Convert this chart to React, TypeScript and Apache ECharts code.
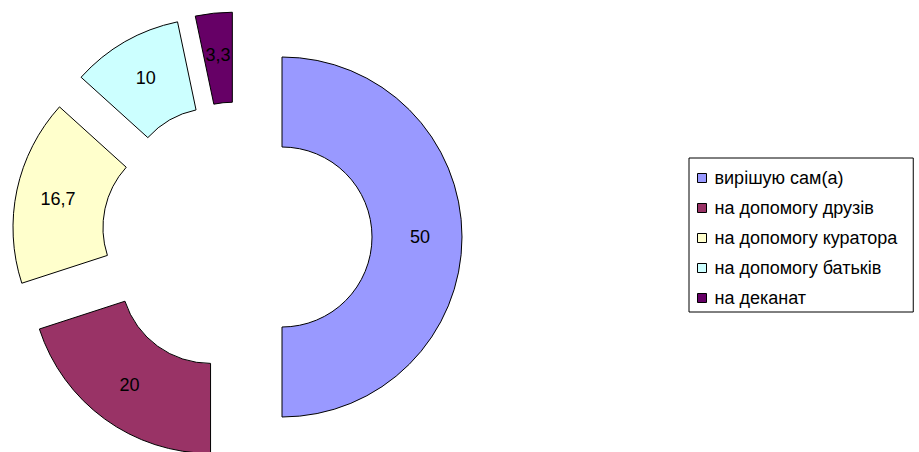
import React, { useEffect, useRef } from "react";
import * as echarts from "echarts";

const categories = [
  "вирішую сам(а)",
  "на допомогу друзів",
  "на допомогу куратора",
  "на допомогу батьків",
  "на деканат",
];
const values = [50, 20, 16.7, 10, 3.3];
const colors = ["#9999FF", "#993366", "#FFFFCC", "#CCFFFF", "#660066"];

export default function App() {
  const ref = useRef<HTMLDivElement>(null);
  useEffect(() => {
    if (!ref.current) return;
    const chart = echarts.init(ref.current, null, { renderer: "svg" });
    const font = "'Liberation Sans', Arial, sans-serif";
    chart.setOption({
      animation: false,
      backgroundColor: "#ffffff",
      legend: {
        orient: "vertical",
        left: 689,
        top: 158,
        padding: [11, 16, 5, 8],
        itemWidth: 9,
        itemHeight: 9,
        itemGap: 12,
        icon: "rect",
        borderColor: "#000",
        borderWidth: 1,
        itemStyle: { borderColor: "#000", borderWidth: 1 },
        textStyle: {
          fontFamily: font,
          fontSize: 18,
          lineHeight: 18,
          color: "#000",
          padding: [0, 0, 0, 3],
        },
        selectedMode: false,
        data: categories,
      },
      series: [
        {
          type: "pie",
          center: [237, 237],
          radius: [90, 180],
          startAngle: 90,
          clockwise: true,
          selectedMode: "multiple",
          selectedOffset: 45,
          avoidLabelOverlap: false,
          emphasis: { disabled: true },
          itemStyle: { borderColor: "#000", borderWidth: 1 },
          label: {
            show: true,
            position: "inside",
            fontFamily: font,
            fontSize: 18,
            color: "#000",
            formatter: (p: any) => String(p.value).replace(".", ","),
          },
          labelLine: { show: false },
          data: categories.map((name, i) => ({
            name,
            value: values[i],
            selected: true,
            itemStyle: { color: colors[i] },
          })),
        },
      ],
    });
    return () => chart.dispose();
  }, []);
  return (
    <div
      ref={ref}
      style={{ position: "absolute", left: 0, top: 0, width: 919, height: 452 }}
    />
  );
}
